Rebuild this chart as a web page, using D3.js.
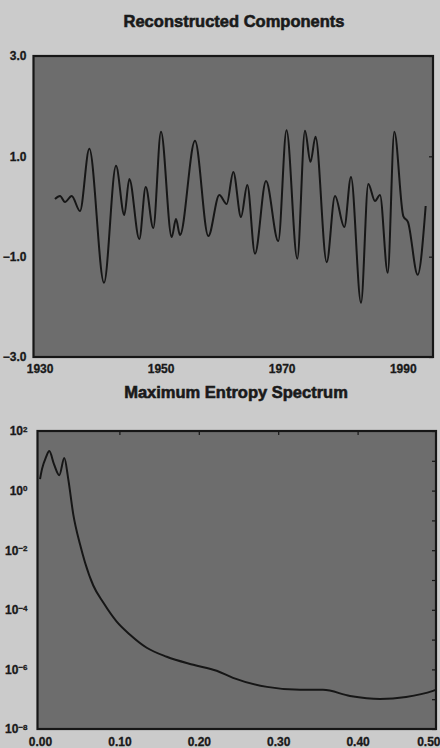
<!DOCTYPE html>
<html>
<head>
<meta charset="utf-8">
<script src="https://cdn.jsdelivr.net/npm/d3@7"></script>
<style>
  html, body { margin: 0; padding: 0; background: #cbcbcb; }
  svg { display: block; }
  text { font-family: "Liberation Sans", Arial, Helvetica, sans-serif; font-weight: bold; fill: #1a1a1a; }
</style>
</head>
<body>
<svg id="chart" width="440" height="748"></svg>
<script>
// Reconstructed components (time series, turning points of the curve)
const rcYears = [1932.55, 1933.38, 1934.20, 1935.31, 1936.68, 1938.22, 1940.65, 1942.63, 1944.00, 1944.83,
  1946.48, 1947.54, 1948.79, 1950.06, 1951.83, 1952.54, 1953.20, 1955.68, 1957.88, 1959.70,
  1960.92, 1962.01, 1963.28, 1964.32, 1965.59, 1967.41, 1969.44, 1970.80, 1972.58, 1973.85,
  1974.76, 1975.59, 1977.44, 1978.81, 1980.35, 1981.45, 1983.11, 1984.31, 1985.42, 1986.24,
  1987.52, 1988.61, 1990.09, 1990.87, 1992.47, 1993.79];
const rcValues = [0.15, 0.21, 0.09, 0.21, -0.09, 1.15, -1.52, 0.81, -0.17, 0.55,
  -0.65, 0.39, -0.43, 1.49, -0.61, -0.25, -0.57, 1.31, -0.59, 0.23,
  0.05, 0.69, -0.21, 0.43, -0.94, 0.51, -0.69, 1.52, -1.04, 1.51,
  0.89, 1.39, -1.11, 0.21, -0.41, 0.59, -1.92, 0.45, 0.11, 0.23,
  -1.32, 1.49, -0.19, -0.31, -1.36, 0.01];

// Maximum entropy spectrum (frequency, cycles/year; power)
const meFreq = [0.0, 0.0025, 0.0076, 0.0117, 0.0176, 0.0243, 0.0306, 0.0356, 0.0419,
  0.0504, 0.0567, 0.0671, 0.0797, 0.0966, 0.1134, 0.1344, 0.1596, 0.1931,
  0.2225, 0.2431, 0.2859, 0.3275, 0.3564, 0.3904, 0.4282, 0.4610, 0.4950, 0.4987];
const mePower = [2.42, 5.26, 13.3, 21.2, 7.74, 3.30, 12.3, 2.42, 0.160,
  0.0157, 3.88e-3, 6.53e-4, 1.75e-4, 4.01e-5, 1.46e-5, 5.33e-6, 2.65e-6, 1.43e-6,
  8.97e-7, 5.21e-7, 2.59e-7, 2.06e-7, 2.06e-7, 1.29e-7, 1.02e-7, 1.19e-7, 1.90e-7, 2.06e-7];

// Tick values
const yearTicks = [1930, 1950, 1970, 1990];
const rcTicks = [3, 1, -1, -3];
const freqTicks = [0, 0.1, 0.2, 0.3, 0.4, 0.5];
const powerTicks = [1e2, 1e0, 1e-2, 1e-4, 1e-6, 1e-8];
const powerMinorTicks = [1e2, 1e1, 1e0, 1e-1, 1e-2, 1e-3, 1e-4, 1e-5, 1e-6, 1e-7, 1e-8];

const titles = ["Reconstructed Components", "Maximum Entropy Spectrum"];

const svg = d3.select("#chart");
const plotFill = "#6d6d6d";
const ink = "#161616";

svg.append("rect").attr("width", 440).attr("height", 748).attr("fill", "#cbcbcb");

// ---------- Panel 1: reconstructed components ----------
const p1 = { left: 33.5, right: 433, top: 56, bottom: 357 };
const x1 = d3.scaleLinear().domain([1929, 1995]).range([p1.left, p1.right]);
const y1 = d3.scaleLinear().domain([-3, 3]).range([p1.bottom, p1.top]);

svg.append("text").attr("x", 234).attr("y", 27).attr("text-anchor", "middle")
  .style("font-size", "16.5px").attr("stroke", "#1a1a1a").attr("stroke-width", 0.6)
  .text(titles[0]);

svg.append("rect")
  .attr("x", p1.left).attr("y", p1.top)
  .attr("width", p1.right - p1.left).attr("height", p1.bottom - p1.top)
  .attr("fill", plotFill);

svg.append("path")
  .datum(rcYears.map((d, i) => [d, rcValues[i]]))
  .attr("fill", "none").attr("stroke", ink).attr("stroke-width", 2)
  .attr("stroke-linejoin", "round")
  .attr("d", d3.line().x(d => x1(d[0])).y(d => y1(d[1])).curve(d3.curveMonotoneX));

const ax1L = svg.append("g").attr("transform", `translate(${p1.left},0)`)
  .call(d3.axisLeft(y1).tickValues(rcTicks).tickFormat(d3.format(".1f")).tickSize(0).tickPadding(7));
const ax1B = svg.append("g").attr("transform", `translate(0,${p1.bottom})`)
  .call(d3.axisBottom(x1).tickValues(yearTicks).tickFormat(d3.format("d")).tickSize(0).tickPadding(7));
const ax1R = svg.append("g").attr("transform", `translate(${p1.right},0)`)
  .call(d3.axisLeft(y1).tickValues(rcTicks).tickFormat("").tickSize(4));
[ax1L, ax1B, ax1R].forEach(g => {
  g.select(".domain").remove();
  g.selectAll("text").style("font-size", "12px").attr("fill", ink)
    .attr("stroke", ink).attr("stroke-width", 0.3);
  g.selectAll("line").attr("stroke", ink).attr("stroke-width", 1.2);
});

svg.append("rect")
  .attr("x", p1.left).attr("y", p1.top)
  .attr("width", p1.right - p1.left).attr("height", p1.bottom - p1.top)
  .attr("fill", "none").attr("stroke", ink).attr("stroke-width", 2.2);

// ---------- Panel 2: maximum entropy spectrum ----------
const p2 = { left: 37.5, right: 436, top: 431, bottom: 729 };
const x2 = d3.scaleLinear().domain([0, 0.5]).range([40, 437]);
const y2 = d3.scaleLog().domain([1e-8, 1e2]).range([p2.bottom, p2.top]);

svg.append("text").attr("x", 236).attr("y", 398).attr("text-anchor", "middle")
  .style("font-size", "16.5px").attr("stroke", "#1a1a1a").attr("stroke-width", 0.6)
  .text(titles[1]);

svg.append("rect")
  .attr("x", p2.left).attr("y", p2.top)
  .attr("width", p2.right - p2.left).attr("height", p2.bottom - p2.top)
  .attr("fill", plotFill);

svg.append("path")
  .datum(meFreq.map((d, i) => [d, mePower[i]]))
  .attr("fill", "none").attr("stroke", ink).attr("stroke-width", 2)
  .attr("stroke-linejoin", "round")
  .attr("d", d3.line().x(d => x2(d[0])).y(d => y2(d[1])).curve(d3.curveMonotoneX));

const ax2L = svg.append("g").attr("transform", `translate(${p2.left},0)`)
  .call(d3.axisLeft(y2).tickValues(powerTicks).tickFormat("").tickSize(0).tickPadding(10));
ax2L.selectAll(".tick text").each(function (d) {
  const t = d3.select(this);
  const e = Math.round(Math.log10(d));
  t.text(null);
  t.append("tspan").text("10");
  t.append("tspan").attr("dy", "-0.45em")
    .text(e < 0 ? "\u2212" + (-e) : String(e));
});
const ax2B = svg.append("g").attr("transform", `translate(0,${p2.bottom})`)
  .call(d3.axisBottom(x2).tickValues(freqTicks).tickFormat(d3.format(".2f")).tickSize(0).tickPadding(8));
// keep the last frequency label inside the page edge
ax2B.selectAll(".tick").filter(d => d === 0.5).select("text")
  .attr("text-anchor", "end").attr("x", 3);
const ax2R = svg.append("g").attr("transform", `translate(${p2.right},0)`)
  .call(d3.axisLeft(y2).tickValues(powerMinorTicks).tickFormat("").tickSize(4));
const ax2T = svg.append("g").attr("transform", `translate(0,${p2.top})`)
  .call(d3.axisBottom(x2).tickValues(freqTicks.slice(1, 5)).tickFormat("").tickSize(4));
[ax2L, ax2B, ax2R, ax2T].forEach(g => {
  g.select(".domain").remove();
  g.selectAll("text").style("font-size", "12px").attr("fill", ink)
    .attr("stroke", ink).attr("stroke-width", 0.3);
  g.selectAll("line").attr("stroke", ink).attr("stroke-width", 1.2);
});
ax2L.selectAll(".tick text tspan:last-child").style("font-size", "8px");

svg.append("rect")
  .attr("x", p2.left).attr("y", p2.top)
  .attr("width", p2.right - p2.left).attr("height", p2.bottom - p2.top)
  .attr("fill", "none").attr("stroke", ink).attr("stroke-width", 2.2);
</script>
</body>
</html>
